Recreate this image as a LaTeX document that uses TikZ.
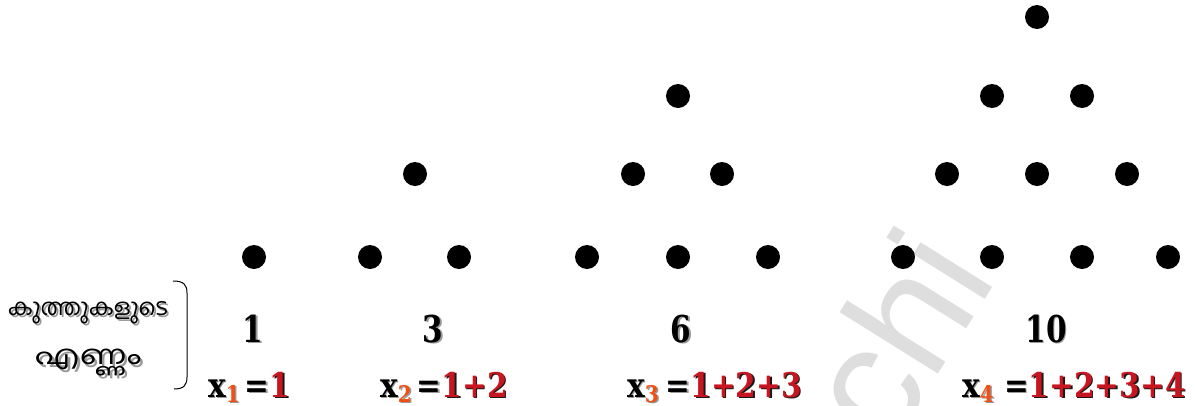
\documentclass[tikz,border=0pt]{standalone}
\usepackage{fontspec}
\usepackage{graphicx}
\newfontfamily\malfont[Script=Malayalam]{Hind Kochi}
\newfontfamily\wmfont{Liberation Sans}
\newfontfamily\numfont{DejaVu Serif}
\definecolor{numred}{RGB}{200,22,32}
\definecolor{subor}{RGB}{240,80,20}
\newcommand\sh[2]{\rlap{\kern1.8pt\raisebox{-1.8pt}{\color{black!40}#2}}{\color{#1}#2}}
\newcommand\shr[2]{\rlap{\kern1.8pt\raisebox{-1.8pt}{\color{black!90}#2}}{\color{#1}#2}}
\newcommand\frm[3]{\scalebox{0.87}[1]{\numfont\bfseries\sh{black}{x}\raisebox{-5pt}{\fontsize{23}{23}\selectfont\sh{subor}{#1}}\hspace{#2}\sh{black}{=}\shr{numred}{#3}}}
\begin{document}
\begin{tikzpicture}[x=1pt,y=-1pt,
  dot/.style={circle,fill=black,inner sep=0pt,minimum size=24pt},
  count/.style={anchor=base,inner sep=0pt,font=\fontsize{37}{37}\numfont\bfseries},
  eqn/.style={anchor=base west,inner sep=0pt,font=\fontsize{34}{34}\selectfont},
  mal/.style={inner sep=0pt,font=\fontsize{23}{23}\malfont}]
\useasboundingbox (0,0) rectangle (1195,405);
% watermark
\node[rotate=58,text=black!13,font=\fontsize{160}{160}\wmfont,inner sep=0pt,anchor=base west] (wm) at (890,452) {chi};
% dots
\foreach \n/\x/\y in {a1/254/257,
  b1/370/257,b2/459/257,b3/415/174,
  c1/587/257,c2/678/257,c3/768/257,c4/633/174,c5/722/174,c6/678/96,
  d1/903/257,d2/992/257,d3/1082/257,d4/1168/257,d5/947/174,d6/1037/174,d7/1127/174,d8/992/96,d9/1082/96,d10/1037/17}
  \node[dot] (\n) at (\x,\y) {};
% counts
\node[count] (n1) at (253,342) {\scalebox{0.8}[1]{\sh{black}{1}}};
\node[count] (n3) at (433,342) {\scalebox{0.8}[1]{\sh{black}{3}}};
\node[count] (n6) at (681,342) {\scalebox{0.8}[1]{\sh{black}{6}}};
\node[count] (n10) at (1046,342) {\scalebox{0.8}[1]{\sh{black}{10}}};
% formulas
\node[eqn] (e1) at (208,397) {\frm{1}{6pt}{1}};
\node[eqn] (e2) at (380,397) {\frm{2}{6pt}{1+2}};
\node[eqn] (e3) at (627,397) {\frm{3}{8pt}{1+2+3}};
\node[eqn] (e4) at (962,397) {\frm{4}{12pt}{1+2+3+4}};
% label
\node[mal] (m1) at (88,314) {\sh{black}{കുത്തുകളുടെ}};
\node[mal] (m2) at (88,364) {\scalebox{1.45}[1.15]{\sh{black}{എണ്ണം}}};
\coordinate (bt) at (173,281);
\coordinate (bb) at (174,389);
\draw[line width=1pt] (bt) .. controls (184,281) and (187,285) .. (187,293) -- (187,377) .. controls (187,385) and (184,389) .. (bb);
\end{tikzpicture}
\end{document}
